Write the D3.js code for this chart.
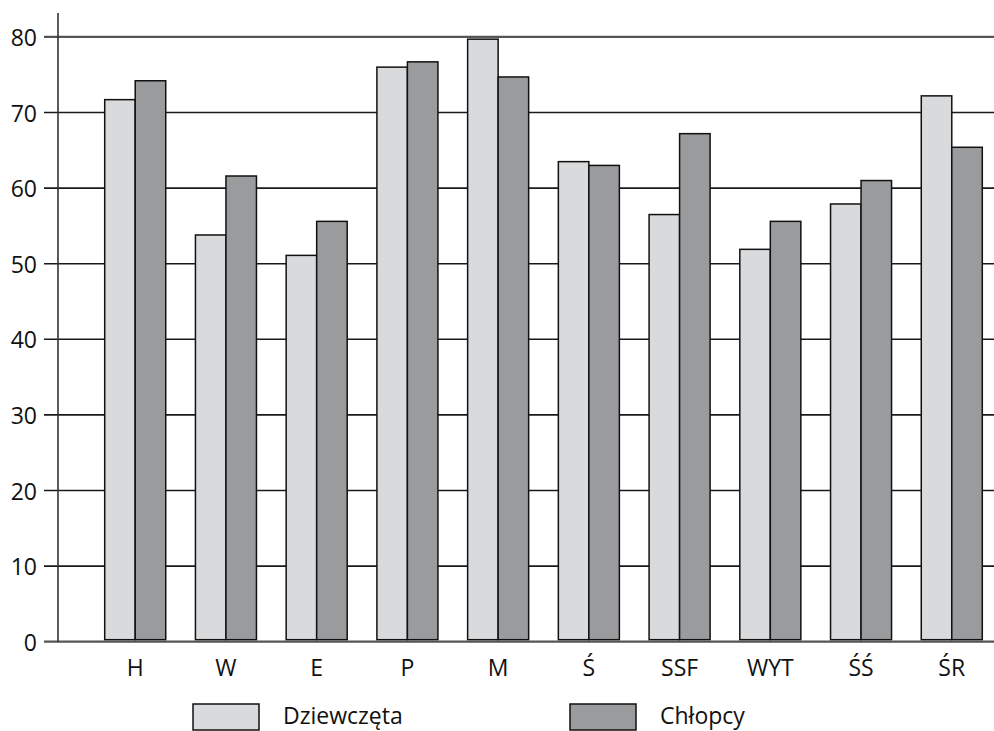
<!DOCTYPE html>
<html>
<head>
<meta charset="utf-8">
<script src="https://cdn.jsdelivr.net/npm/d3@7"></script>
<style>
  html, body { margin: 0; padding: 0; background: #fff; }
  svg { display: block; font-family: "Open Sans", "Noto Sans", sans-serif; }
</style>
</head>
<body>
<svg id="chart" width="994" height="731"></svg>
<script>
const categories = ["H", "W", "E", "P", "M", "Ś", "SSF", "WYT", "ŚŚ", "ŚR"];
const seriesNames = ["Dziewczęta", "Chłopcy"];
const dziewczeta = [71.7, 53.8, 51.1, 76.0, 79.7, 63.5, 56.5, 51.9, 57.9, 72.2];
const chlopcy   = [74.2, 61.6, 55.6, 76.7, 74.7, 63.0, 67.2, 55.6, 61.0, 65.4];
const yTicks = [0, 10, 20, 30, 40, 50, 60, 70, 80];
const colors = ["#d9dadc", "#9a9b9d"];

const svg = d3.select("#chart");

const x = d3.scaleBand().domain(categories).range([75, 1012])
  .paddingInner(0.3275).paddingOuter(0.3275);
const xs = d3.scaleBand().domain(seriesNames).range([0, x.bandwidth()]);
const y = d3.scaleLinear().domain([0, 80]).range([641.7, 36.9]);

// gridlines
const grid = svg.append("g");
grid.selectAll("line").data(yTicks.filter(t => t > 0 && t < 80)).join("line")
  .attr("x1", 44).attr("x2", 994)
  .attr("y1", d => y(d)).attr("y2", d => y(d))
  .attr("stroke", "#1a1a1a").attr("stroke-width", 1.6);
grid.append("line").attr("x1", 44).attr("x2", 994)
  .attr("y1", y(80)).attr("y2", y(80))
  .attr("stroke", "#555").attr("stroke-width", 2.2);

// y tick labels
svg.append("g").selectAll("text").data(yTicks).join("text")
  .attr("x", 37).attr("y", d => y(d))
  .attr("text-anchor", "end").attr("dominant-baseline", "central")
  .attr("font-size", 23).attr("fill", "#111")
  .text(d => d);

// bars
const rows = categories.map((c, i) => ({ cat: c, vals: [dziewczeta[i], chlopcy[i]] }));
const groups = svg.append("g").selectAll("g").data(rows).join("g")
  .attr("transform", d => `translate(${x(d.cat)},0)`);
groups.selectAll("rect").data(d => d.vals.map((v, k) => ({ v, k }))).join("rect")
  .attr("x", d => xs(seriesNames[d.k]))
  .attr("width", xs.bandwidth())
  .attr("y", d => y(d.v))
  .attr("height", d => y(0) - 2 - y(d.v))
  .attr("fill", d => colors[d.k])
  .attr("stroke", "#111").attr("stroke-width", 1.5);

// x axis line and y axis line
svg.append("line").attr("x1", 44).attr("x2", 994)
  .attr("y1", y(0)).attr("y2", y(0))
  .attr("stroke", "#555").attr("stroke-width", 2.2);
svg.append("line").attr("x1", 58).attr("x2", 58)
  .attr("y1", 13).attr("y2", y(0))
  .attr("stroke", "#333").attr("stroke-width", 1.6);

// category labels
svg.append("g").selectAll("text").data(categories).join("text")
  .attr("x", d => x(d) + x.bandwidth() / 2).attr("y", 676)
  .attr("text-anchor", "middle").attr("font-size", 23).attr("fill", "#111")
  .text(d => d);

// legend
const legendX = [193, 570];
const leg = svg.append("g").selectAll("g").data(seriesNames).join("g")
  .attr("transform", (d, i) => `translate(${legendX[i]},704)`);
leg.append("rect").attr("width", 66).attr("height", 26)
  .attr("fill", (d, i) => colors[i]).attr("stroke", "#111").attr("stroke-width", 1.5);
leg.append("text").attr("x", 90).attr("y", 20)
  .attr("font-size", 23).attr("fill", "#111").text(d => d);
</script>
</body>
</html>
